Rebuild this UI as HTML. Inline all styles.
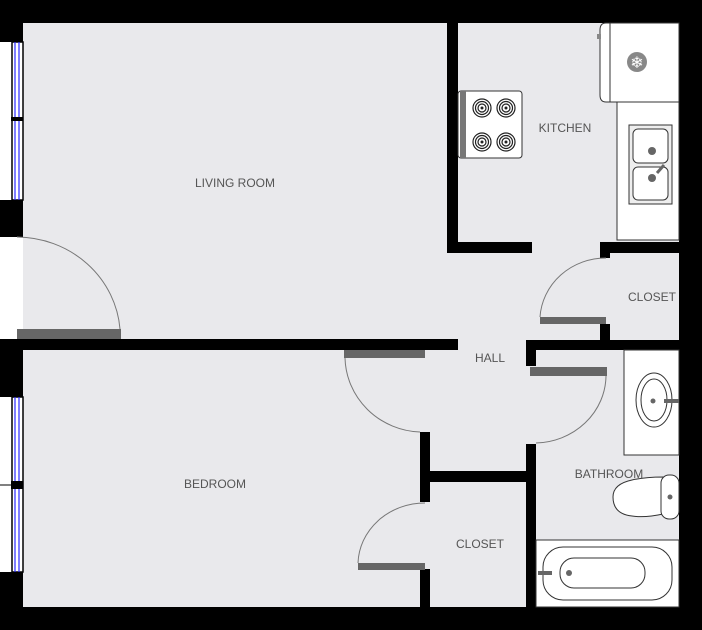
<!DOCTYPE html>
<html><head><style>body{margin:0;background:#fff}svg{display:block}text{font-family:"Liberation Sans",sans-serif;font-size:12px;fill:#555;text-anchor:middle}</style></head>
<body>
<svg width="702" height="630" viewBox="0 0 702 630" xmlns="http://www.w3.org/2000/svg">
<rect x="23" y="23" width="656" height="584" fill="#e9e9ec"/>
<rect x="0" y="237" width="23" height="102" fill="#fff"/>
<g fill="#000">
<rect x="0" y="0" width="702" height="23"/>
<rect x="679" y="0" width="23" height="630"/>
<rect x="0" y="607" width="702" height="23"/>
<rect x="0" y="0" width="23" height="42"/>
<rect x="0" y="200" width="23" height="37"/>
<rect x="0" y="339" width="23" height="58"/>
<rect x="0" y="572" width="23" height="58"/>
<rect x="0" y="339" width="458" height="11"/>
<rect x="447" y="23" width="11" height="230"/>
<rect x="447" y="242" width="85" height="11"/>
<rect x="600" y="242" width="79" height="11"/>
<rect x="600" y="242" width="10" height="16"/>
<rect x="600" y="324" width="10" height="18"/>
<rect x="526" y="340" width="153" height="10"/>
<rect x="526" y="340" width="10" height="26"/>
<rect x="526" y="444" width="10" height="163"/>
<rect x="420" y="471" width="106" height="11"/>
<rect x="420" y="432" width="10" height="70"/>
<rect x="420" y="569" width="10" height="38"/>
</g>
<rect x="0" y="42" width="12" height="158" fill="#fff"/>
<rect x="0" y="397" width="12" height="175" fill="#fff"/>
<rect x="12" y="42" width="11" height="158" fill="#fff" stroke="#000" stroke-width="1.5"/>
<rect x="12" y="397" width="11" height="175" fill="#fff" stroke="#000" stroke-width="1.5"/>
<g stroke="#2a2aff" stroke-width="1.2">
<line x1="15" y1="42" x2="15" y2="200"/><line x1="19" y1="42" x2="19" y2="200"/>
<line x1="15" y1="397" x2="15" y2="572"/><line x1="19" y1="397" x2="19" y2="572"/>
</g>
<rect x="11" y="117" width="12" height="4" fill="#000"/>
<rect x="11" y="481" width="12" height="8" fill="#000"/>
<line x1="0" y1="485" x2="12" y2="485" stroke="#000"/>
<g fill="#666">
<rect x="17" y="329" width="104" height="10"/>
<rect x="540" y="317" width="66" height="7"/>
<rect x="530" y="367" width="77" height="9"/>
<rect x="344" y="350" width="81" height="8"/>
<rect x="358" y="563" width="67" height="7"/>
</g>
<g stroke="#777" fill="none" stroke-width="1">
<path d="M17 237 A104 100 0 0 1 120 329"/>
<path d="M540 317 A66 63 0 0 1 606 258"/>
<path d="M606 376 A72 68 0 0 1 536 443"/>
<path d="M345 358 A78 76 0 0 0 420 432"/>
<path d="M358 563 A67 62 0 0 1 425 503"/>
</g>
<path d="M606 23 H679 V102 H606 Q600 102 600 95 V30 Q600 23 606 23Z" fill="#fff" stroke="#333"/>
<line x1="610" y1="23" x2="610" y2="102" stroke="#333"/>
<rect x="597" y="34" width="4" height="5" fill="#888"/>
<circle cx="637" cy="62" r="10" fill="#888"/>
<text x="637" y="68" style="font-size:16px;fill:#fff">❄</text>
<rect x="617" y="102" width="62" height="138" fill="#fff" stroke="#333"/>
<rect x="629" y="125" width="43" height="79" fill="#eee" stroke="#333"/>
<rect x="633" y="129" width="35" height="34" rx="5" fill="#fff" stroke="#333"/>
<rect x="633" y="167" width="35" height="33" rx="5" fill="#fff" stroke="#333"/>
<circle cx="652" cy="151" r="4" fill="#666"/><circle cx="652" cy="178" r="4" fill="#666"/>
<line x1="657" y1="173" x2="664" y2="165" stroke="#666" stroke-width="3"/>
<rect x="458" y="91" width="64" height="67" rx="3" fill="#fff" stroke="#333"/>
<rect x="460" y="91" width="6" height="67" fill="#777"/>
<g fill="none" stroke="#222" stroke-width="1.2">
<circle cx="482" cy="108" r="9"/><circle cx="506" cy="108" r="9"/><circle cx="482" cy="142" r="9"/><circle cx="506" cy="142" r="9"/>
<circle cx="482" cy="108" r="6.5"/><circle cx="506" cy="108" r="6.5"/><circle cx="482" cy="142" r="6.5"/><circle cx="506" cy="142" r="6.5"/>
<circle cx="482" cy="108" r="4"/><circle cx="506" cy="108" r="4"/><circle cx="482" cy="142" r="4"/><circle cx="506" cy="142" r="4"/>
</g>
<g fill="#222"><circle cx="482" cy="108" r="1.5"/><circle cx="506" cy="108" r="1.5"/><circle cx="482" cy="142" r="1.5"/><circle cx="506" cy="142" r="1.5"/></g>
<rect x="624" y="350" width="55" height="105" fill="#fff" stroke="#333"/>
<ellipse cx="654" cy="400" rx="18" ry="27" fill="#fff" stroke="#333"/>
<ellipse cx="654" cy="400" rx="13" ry="21" fill="#fff" stroke="#333"/>
<circle cx="653" cy="401" r="2.5" fill="#666"/>
<rect x="664" y="399" width="15" height="4" fill="#666"/>
<path d="M663 477 Q645 477 632 480 Q613 484 613 497 Q613 514 632 516 Q645 518 663 514 Z" fill="#fff" stroke="#333"/>
<rect x="661" y="475" width="18" height="44" rx="8" fill="#fff" stroke="#333"/>
<circle cx="670" cy="497" r="2.5" fill="#666"/>
<rect x="536" y="540" width="143" height="67" fill="#fff" stroke="#333"/>
<rect x="543" y="547" width="129" height="53" rx="20" fill="#fff" stroke="#333"/>
<rect x="560" y="558" width="85" height="30" rx="14" fill="#fff" stroke="#333"/>
<circle cx="569" cy="573" r="3" fill="#666"/>
<rect x="538" y="571" width="14" height="4" fill="#666"/>
<text x="235" y="187">LIVING ROOM</text>
<text x="565" y="132">KITCHEN</text>
<text x="652" y="301">CLOSET</text>
<text x="490" y="362">HALL</text>
<text x="609" y="478">BATHROOM</text>
<text x="215" y="488">BEDROOM</text>
<text x="480" y="548">CLOSET</text>
</svg>
</body></html>
